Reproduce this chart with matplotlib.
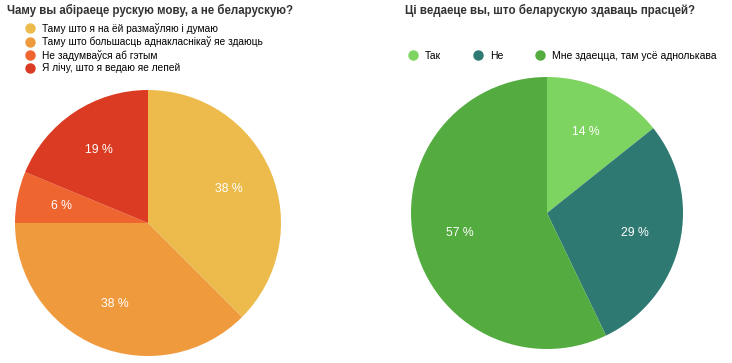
import matplotlib.pyplot as plt
from matplotlib.lines import Line2D

plt.rcParams["font.family"] = ["Liberation Sans", "DejaVu Sans"]

# left chart: why Russian and not Belarusian
left_title = "Чаму вы абіраеце рускую мову, а не беларускую?"
left_labels = [
    "Таму што я на ёй размаўляю і думаю",
    "Таму што большасць аднакласнікаў яе здаюць",
    "Не задумваўся аб гэтым",
    "Я лічу, што я ведаю яе лепей",
]
left_counts = [6, 6, 1, 3]
left_colors = ["#EDBB4B", "#F09A3E", "#EE6530", "#DB3B22"]

# right chart: do you know Belarusian is easier to pass
right_title = "Ці ведаеце вы, што беларускую здаваць прасцей?"
right_labels = ["Так", "Не", "Мне здаецца, там усё аднолькава"]
right_counts = [1, 2, 4]
right_colors = ["#7ED460", "#2E7972", "#54AC40"]

W, H = 732, 363


def px_axes(fig, cx, cy, r):
    return fig.add_axes([(cx - r) / W, (H - cy - r) / H, 2 * r / W, 2 * r / H])


def draw_pie(ax, counts, colors):
    ax.pie(
        counts,
        colors=colors,
        startangle=90,
        counterclock=False,
        autopct=lambda p: f"{p:.0f} %",
        pctdistance=0.66,
        wedgeprops=dict(linewidth=0),
        textprops=dict(color="white", fontsize=8.8),
    )
    ax.set_xlim(-1, 1)
    ax.set_ylim(-1, 1)


def handles(colors):
    return [
        Line2D([], [], marker="o", linestyle="none", markersize=6.5,
               markerfacecolor=c, markeredgecolor=c)
        for c in colors
    ]


def draw():
    fig = plt.figure(figsize=(W / 100, H / 100), dpi=100)

    ax1 = px_axes(fig, 148, 223, 133)
    draw_pie(ax1, left_counts, left_colors)
    ax2 = px_axes(fig, 547, 213, 136)
    draw_pie(ax2, right_counts, right_colors)

    fig.text(7 / W, 1 - 10 / H, left_title, fontsize=8.3, fontweight="bold",
             color="#333333", va="center")
    fig.text(405 / W, 1 - 10 / H, right_title, fontsize=8.3, fontweight="bold",
             color="#333333", va="center")

    fig.legend(handles(left_colors), left_labels, loc="upper left",
               bbox_to_anchor=(25 / W, 1 - 23 / H), frameon=False, fontsize=7.3,
               borderpad=0, handlelength=1.05, handletextpad=0.65,
               labelspacing=0.25, borderaxespad=0)
    fig.legend(handles(right_colors), right_labels, loc="upper left",
               bbox_to_anchor=(408 / W, 1 - 51 / H), frameon=False, fontsize=7.5,
               borderpad=0, handlelength=1.0, handletextpad=0.65, ncol=3,
               columnspacing=3.0, borderaxespad=0)

    fig.savefig("out.png", dpi=100)


def main():
    draw()


if __name__ == "__main__":
    main()
